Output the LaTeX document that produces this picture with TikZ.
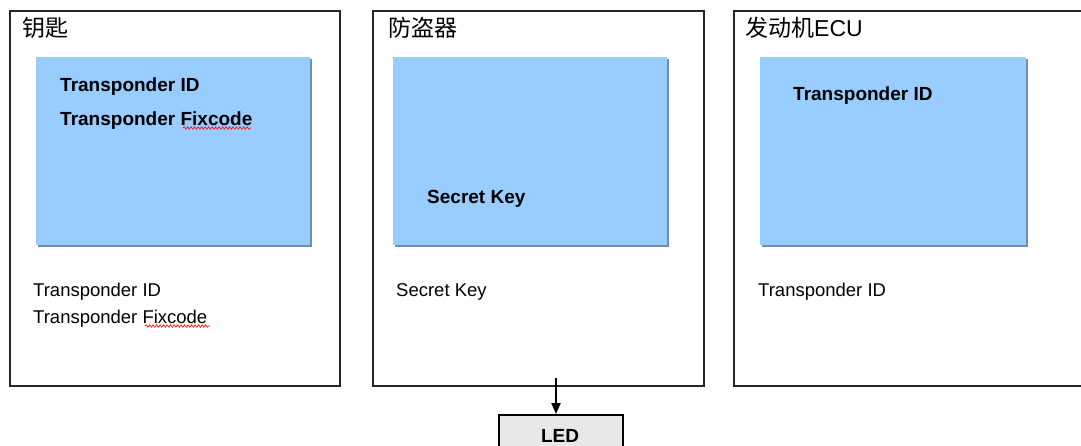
\documentclass[tikz,border=0pt]{standalone}
\usepackage{fontspec}
\setmainfont{Liberation Sans}
\newfontfamily\cjk{Noto Sans CJK SC}
\usetikzlibrary{arrows.meta,decorations.pathmorphing}
\definecolor{blueFill}{HTML}{99CCFF}
\definecolor{blueShadow}{HTML}{7090B0}
\definecolor{ledFill}{HTML}{E8E8E8}
\tikzset{
  outerbox/.style={draw=black!85, line width=1.1pt},
  bluebox/.style={fill=blueFill},
  blueshadow/.style={fill=blueShadow},
  boldtxt/.style={anchor=base west, inner sep=0pt, font=\fontsize{19}{21}\selectfont\bfseries},
  regtxt/.style={anchor=base west, inner sep=0pt, font=\fontsize{18.5}{20}\selectfont},
  titletxt/.style={anchor=west, inner sep=0pt, font=\fontsize{23}{25}\selectfont},
  ledbox/.style={draw=black, line width=1.6pt, fill=ledFill},
  wavy/.style={draw=red, line width=0.6pt, decorate, decoration={snake, amplitude=1.3pt, segment length=3.5pt}},
  connector/.style={draw=black, line width=2.2pt, -{Triangle[length=11pt,width=9pt]}}
}
\begin{document}
\begin{tikzpicture}[x=1pt,y=-1pt]
\useasboundingbox (0,0) rectangle (1081,445);
\clip (0,0) rectangle (1081,445);
\fill[white] (0,0) rectangle (1081,445);
% outer boxes
\draw[outerbox] (10,11) rectangle (340,386);
\draw[outerbox] (373,11) rectangle (704,386);
\draw[outerbox] (734,11) rectangle (1083,386);
% titles
\node[titletxt] (t1) at (22,28) {\cjk 钥匙};
\node[titletxt] (t2) at (388,28) {\cjk 防盗器};
\node[titletxt] (t3) at (745,28) {{\cjk 发动机}ECU};
% blue boxes
\fill[blueshadow] (38,59) rectangle (312,247);
\fill[bluebox] (36,57) rectangle (310,245);
\fill[blueshadow] (395,59) rectangle (669,247);
\fill[bluebox] (393,57) rectangle (667,245);
\fill[blueshadow] (762,59) rectangle (1028,247);
\fill[bluebox] (760,57) rectangle (1026,245);
% bold texts
\node[boldtxt] (b1a) at (60,91) {Transponder ID};
\node[boldtxt] (b1b) at (60,125) {Transponder Fixcode};
\node[boldtxt] (b2) at (427,203) {Secret Key};
\node[boldtxt] (b3) at (793,100) {Transponder ID};
% regular texts
\node[regtxt] (r1a) at (33,296) {Transponder ID};
\node[regtxt] (r1b) at (33,323) {Transponder Fixcode};
\node[regtxt] (r2) at (396,296) {Secret Key};
\node[regtxt] (r3) at (758,296) {Transponder ID};
% spell-check underlines
\path[wavy] (183,128) -- (251,128);
\path[wavy] (145,326) -- (210,326);
% LED
\node[ledbox, minimum width=124pt, minimum height=46pt, anchor=north west, inner sep=0pt] (led) at (498,414) {};
\node[anchor=base, inner sep=0pt, font=\fontsize{19}{21}\selectfont\bfseries] (ledtxt) at (560,442) {LED};
\coordinate (arrstart) at (556,378);
\draw[connector] (arrstart) -- (arrstart |- led.north);
\end{tikzpicture}
\end{document}
